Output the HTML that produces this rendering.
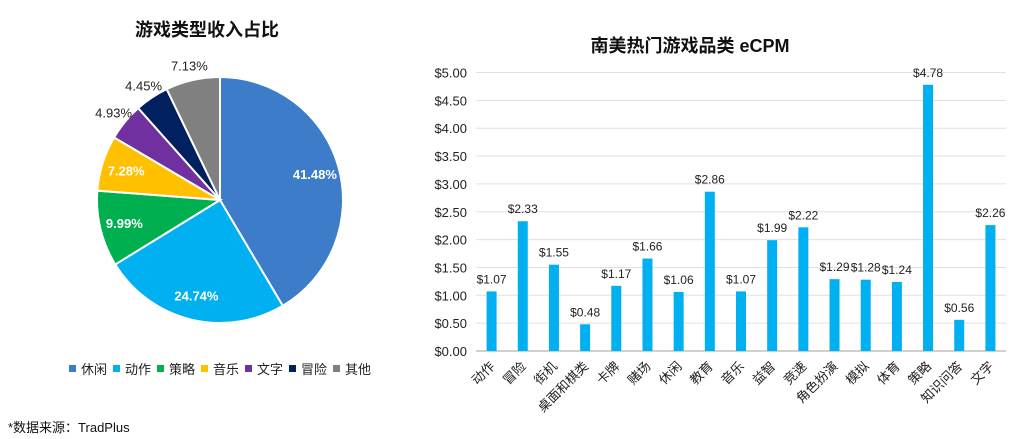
<!DOCTYPE html>
<html><head><meta charset="utf-8"><style>
body{margin:0;width:1011px;height:439px;background:#fff;overflow:hidden;font-family:"Liberation Sans","Noto Sans CJK SC",sans-serif;}
svg{position:absolute;left:0;top:0}
</style></head><body>
<svg id="s" width="1011" height="439" font-family="Liberation Sans, Noto Sans CJK SC, sans-serif">
<text x="207" y="36" text-anchor="middle" font-size="18" font-weight="bold" fill="#111">游戏类型收入占比</text>
<text x="690" y="52" text-anchor="middle" font-size="18" font-weight="bold" fill="#111">南美热门游戏品类 eCPM</text>
<text x="8" y="432" font-size="13" fill="#111">*数据来源：TradPlus</text>
<g id="pie"></g>
<g id="legend"></g>
<g id="bar"></g>
</svg>
<script>
const pieCats=["休闲","动作","策略","音乐","文字","冒险","其他"];
const pieVals=[41.48,24.74,9.99,7.28,4.93,4.45,7.13];
const pieColors=["#3d7cc9","#00b0f0","#00b050","#ffc000","#7030a0","#002060","#808080"];
const barCats=["动作","冒险","街机","桌面和棋类","卡牌","赌场","休闲","教育","音乐","益智","竞速","角色扮演","模拟","体育","策略","知识问答","文字"];
const barVals=[1.07,2.33,1.55,0.48,1.17,1.66,1.06,2.86,1.07,1.99,2.22,1.29,1.28,1.24,4.78,0.56,2.26];
const yTicks=[0,0.5,1,1.5,2,2.5,3,3.5,4,4.5,5];
const NS="http://www.w3.org/2000/svg";
function mk(t,a,p){const e=document.createElementNS(NS,t);for(const k in a)e.setAttribute(k,a[k]);p.appendChild(e);return e;}
const pie=document.getElementById('pie');
const cx=220,cy=200,r=123;
const total=pieVals.reduce((a,b)=>a+b,0);
let acc=0;
pieVals.forEach((v,i)=>{
  const a0=acc/total*2*Math.PI;acc+=v;const a1=acc/total*2*Math.PI;
  const x0=cx+r*Math.sin(a0),y0=cy-r*Math.cos(a0),x1=cx+r*Math.sin(a1),y1=cy-r*Math.cos(a1);
  const p=mk('path',{d:`M${cx},${cy}L${x0},${y0}A${r},${r} 0 ${(a1-a0)>Math.PI?1:0} 1 ${x1},${y1}Z`,fill:pieColors[i],stroke:'#fff','stroke-width':2},pie);
  
  
  const am=(a0+a1)/2,inside=v>7.2&&i!==6,k=inside?0.8:1.12;
  const t=mk('text',{x:cx+r*k*Math.sin(am),y:cy-r*k*Math.cos(am)+5,'text-anchor':'middle','font-size':13,fill:inside?'#fff':'#222','font-weight':inside?'bold':'normal'},pie);
  t.textContent=v.toFixed(2)+'%';
  
  
});
const lg=document.getElementById('legend');
let lx=69;
pieCats.forEach((c,i)=>{
  const rc=mk('rect',{x:lx,y:365,width:7,height:7,fill:pieColors[i]},lg);
  
  
  const t=mk('text',{x:lx+12,y:374,'font-size':13,fill:'#222'},lg);
  t.textContent=c;
  
  
  lx+=44;
});
const bar=document.getElementById('bar');
const x0=476,x1=1006,yB=351,yT=72.5,yMax=5;
const ys=v=>yB-(v/yMax)*(yB-yT);
const step=(x1-x0)/barCats.length;
const xs=i=>x0+step*(i+0.5);
yTicks.forEach(v=>{
  const l=mk('line',{x1:x0,x2:x1,y1:ys(v),y2:ys(v),stroke:v===0?'#d0d0d0':'#e0e0e0','stroke-width':v===0?2:1},bar);
  
  
  const t=mk('text',{x:467,y:ys(v)+5,'text-anchor':'end','font-size':13,fill:'#222'},bar);
  t.textContent='$'+v.toFixed(2);
  
  
});
barVals.forEach((v,i)=>{
  const rc=mk('rect',{x:xs(i)-5,y:ys(v),width:10,height:yB-ys(v),fill:'#00b0f0'},bar);
  
  
  const t=mk('text',{x:xs(i),y:ys(v)-8,'text-anchor':'middle','font-size':12,fill:'#222'},bar);
  t.textContent='$'+v.toFixed(2);
  
  
  const c=mk('text',{x:xs(i)+4,y:367,'text-anchor':'end','font-size':13,fill:'#222',transform:`rotate(-45 ${xs(i)+4} 367)`},bar);
  c.textContent=barCats[i];
  
  
});
</script>
</body></html>
